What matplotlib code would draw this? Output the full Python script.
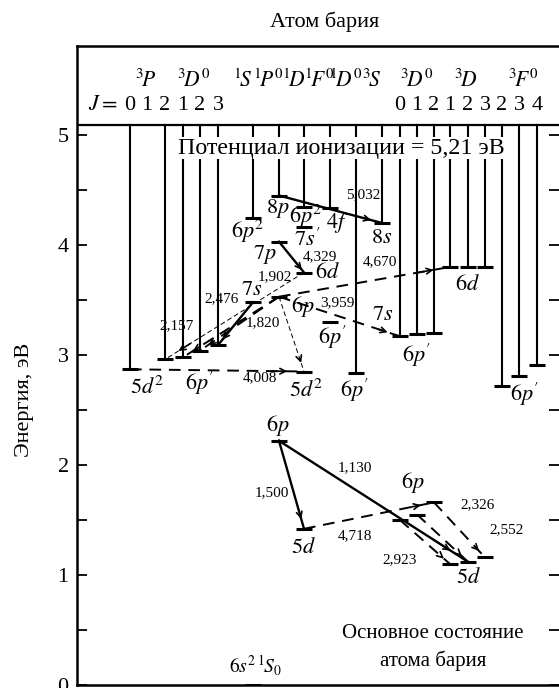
import matplotlib.pyplot as plt
import numpy as np

plt.rcParams['font.family'] = ['Liberation Serif', 'DejaVu Serif']
plt.rcParams['mathtext.fontset'] = 'stix'

# header: term symbols and J values of every column
term_names = [r'$^3\!P$', r'$^3\!D^0$', r'$^1\!S$', r'$^1\!P^0$', r'$^1\!D$', r'$^1\!F^0$',
              r'$^1\!D^0$', r'$^3\!S$', r'$^3\!D^0$', r'$^3\!D$', r'$^3\!F^0$']
j_values = ['0', '1', '2', '1', '2', '3', '', '', '', '', '', '',
            '0', '1', '2', '1', '2', '3', '2', '3', '4']
ion_potential = 5.21

# energy levels: column index, energy (eV)
level_keys = ['P0_5d2', 'P2_5d2', 'D1_6p', 'D2_6p', 'D3_6p',
              'S_6p2', 'S_7s', 'S_6s2',
              'P_8p', 'P_7p', 'P_6p_hi', 'P_6p',
              'D_6p2', 'D_7s', 'D_6d', 'D_5d2', 'D_5d',
              'F_4f', 'F_6p', 'D0_6p', 'S3_8s',
              '3D0_0', '3D0_1', '3D0_2', '3D_1', '3D_2', '3D_3',
              '3F_2', '3F_3', '3F_4',
              '3P_0', '3P_1', '3P_2', '5d_1', '5d_2', '5d_3']
level_col = [0, 2, 3, 4, 5,
             6, 6, 6,
             7, 7, 7, 7,
             8, 8, 8, 8, 8,
             9, 9, 10, 11,
             12, 13, 14, 15, 16, 17,
             18, 19, 20,
             12, 13, 14, 15, 16, 17]
level_E = [2.87, 2.96, 2.98, 3.04, 3.09,
           4.25, 3.48, 0.0,
           4.45, 4.03, 3.53, 2.22,
           4.35, 4.16, 3.75, 2.85, 1.42,
           4.34, 3.30, 2.84, 4.20,
           3.17, 3.19, 3.20, 3.80, 3.80, 3.80,
           2.72, 2.81, 2.91,
           1.50, 1.55, 1.66, 1.10, 1.12, 1.16]

# transitions (wavelength, um)
trans_from = ['P_8p', 'P_7p', 'D_6d', 'P_6p_hi', 'S_7s', 'P_6p_hi', 'P_6p_hi', 'P_6p_hi',
              'P0_5d2', 'P_6p_hi', 'P_6p', 'P_6p', 'D_5d', '3P_2', '3P_1', '3P_0']
trans_to = ['S3_8s', 'D_6d', 'P2_5d2', 'D1_6p', 'D3_6p', 'D2_6p', '3D0_0', '3D_1',
            'D_5d2', 'D_5d2', 'D_5d', '5d_2', '3P_2', '5d_3', '5d_2', '5d_1']
trans_um = ['5,032', '4,329', '1,902', '2,157', '2,476', '1,820', '3,959', '4,670',
            '4,008', '', '1,500', '1,130', '4,718', '2,326', '2,552', '2,923']
trans_kind = ['solid', 'solid', 'thin', 'dash', 'solid', 'dash', 'dash', 'dash',
              'dash', 'thin', 'solid', 'solid', 'dash', 'dash', 'dash', 'dash']

# ---------------- layout ----------------
col_x = [130, 147, 165, 183, 200, 218, 253, 279, 304, 330, 356, 382,
         400, 417, 434, 450, 468, 485, 502, 519, 537]
term_x = [146, 194, 243, 268, 294, 319, 346, 372, 417, 466, 523]
px = 110.0  # pixels per eV
header_E = 560 / px
top_E = 639 / px

trans_label_pos = [(363, 4.46), (320, 3.89), (275, 3.71), (177, 3.27), (222, 3.51),
                   (263, 3.29), (337, 3.48), (380, 3.85), (260, 2.79), None,
                   (272, 1.75), (355, 1.98), (355, 1.36), (478, 1.64), (507, 1.41),
                   (400, 1.14)]

level_labels = [(r'$5d^2$', 147, 2.70), (r"$6p'$", 200, 2.745), (r'$6p^2$', 248, 4.12),
                (r'$8p$', 278, 4.33), (r'$6p^2$', 306, 4.26), (r"$7s'$", 307, 4.05),
                (r'$4f$', 337, 4.20), (r'$8s$', 382, 4.06), (r'$7p$', 265, 3.91),
                (r'$6d$', 327, 3.745), (r'$7s$', 252, 3.59), (r'$6p$', 303, 3.44),
                (r"$6p'$", 333, 3.16), (r'$5d^2$', 306, 2.68), (r"$6p'$", 355, 2.68),
                (r'$7s$', 383, 3.36), (r"$6p'$", 417, 3.00), (r'$6d$', 467, 3.64),
                (r"$6p'$", 525, 2.64), (r'$6p$', 278, 2.36), (r'$5d$', 303, 1.245),
                (r'$6p$', 413, 1.84), (r'$5d$', 468, 0.97)]

fig = plt.figure(figsize=(5.59, 6.88), dpi=100)
ax = fig.add_axes([77 / 559, 3 / 688, 1 - 77 / 559, 639 / 688])
ax.set_xlim(77, 559)
ax.set_ylim(0, top_E)

lev = {}
for k, c, e in zip(level_keys, level_col, level_E):
    lev[k] = (col_x[c], e)

# header line
ax.axhline(header_E, color='black', lw=1.6, zorder=3)

# verticals to the highest level of each column
top_of_col = {}
for k, c, e in zip(level_keys, level_col, level_E):
    if c not in top_of_col or e > top_of_col[c]:
        top_of_col[c] = e
for c, e in top_of_col.items():
    ax.plot([col_x[c], col_x[c]], [e, header_E], color='black', lw=1.5, zorder=1)

# level bars
for k, (x, e) in lev.items():
    ax.plot([x - 8, x + 8], [e, e], color='black', lw=2.2, solid_capstyle='butt', zorder=4)

# transitions
for f, t, lab, kind, lp in zip(trans_from, trans_to, trans_um, trans_kind, trans_label_pos):
    (x0, y0), (x1, y1) = lev[f], lev[t]
    if kind == 'solid':
        ax.plot([x0, x1], [y0, y1], color='black', lw=1.7, zorder=2)
    elif kind == 'dash':
        ax.plot([x0, x1], [y0, y1], color='black', lw=1.4, ls=(0, (6, 4)), zorder=2)
    else:
        ax.plot([x0, x1], [y0, y1], color='black', lw=0.7, ls=(0, (5, 3)), zorder=2)
    # arrow head near the lower level
    xa, ya = x0 + 0.92 * (x1 - x0), y0 + 0.92 * (y1 - y0)
    xb, yb = x0 + 0.80 * (x1 - x0), y0 + 0.80 * (y1 - y0)
    ax.annotate('', xy=(xa, ya), xytext=(xb, yb),
                arrowprops=dict(arrowstyle='->', lw=1.2, color='black', mutation_scale=10))
    if lp is not None:
        ax.text(lp[0], lp[1], lab, fontsize=11, ha='center', va='center', zorder=5)

for txt, x, e in level_labels:
    ax.text(x, e, txt, fontsize=16, ha='center', va='center', zorder=5)

# ground state
ax.text(255, 0.18, r'$6s^{2}\,{}^{1}\!S_0$', fontsize=14, ha='center', va='center')
ax.text(433, 0.47, 'Основное состояние', fontsize=15, ha='center', va='center')
ax.text(433, 0.22, 'атома бария', fontsize=15, ha='center', va='center')

# ionization potential
ax.text(341, 4.88, 'Потенциал ионизации = ' + f'{ion_potential:.2f}'.replace('.', ',') + ' эВ',
        fontsize=17.3, ha='center', va='center', zorder=6,
        bbox=dict(fc='white', ec='none', pad=0.3))

# header texts
for txt, x in zip(term_names, term_x):
    ax.text(x, 5.49, txt, fontsize=15.5, ha='center', va='center')
ax.text(103, 5.27, r'$J = $', fontsize=16, ha='center', va='center')
for j, x in zip(j_values, col_x):
    if j:
        ax.text(x, 5.27, j, fontsize=16, ha='center', va='center')

# axes styling
ax.set_xticks([])
yt = np.arange(0, 5.01, 0.5)
ax.set_yticks(yt)
ax.set_yticklabels([str(int(v)) if v % 1 == 0 else '' for v in yt])
ax.tick_params(axis='y', direction='in', length=7, width=1.3, right=True,
               labelsize=16, pad=6)
ax.spines['right'].set_visible(False)
for s in ['left', 'top', 'bottom']:
    ax.spines[s].set_linewidth(1.8)

fig.text(325 / 559, 1 - 22 / 688, 'Атом бария', fontsize=16, ha='center', va='center')
fig.text(25 / 559, 1 - 400 / 688, 'Энергия, эВ', fontsize=16, rotation=90,
         ha='center', va='center')

fig.savefig('out.png', dpi=100)
